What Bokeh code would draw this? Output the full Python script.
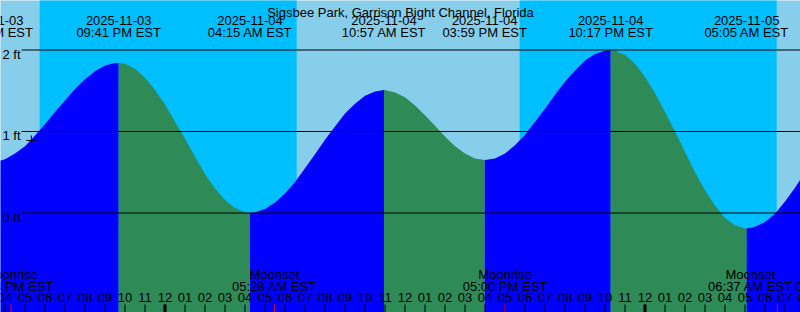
from datetime import datetime
from bokeh.plotting import figure
from bokeh.models import Range1d, ColumnDataSource, LabelSet, Label
from bokeh.core.properties import value
from bokeh.embed import file_html
from bokeh.resources import INLINE

TITLE = "Sigsbee Park, Garrison Bight Channel, Florida"

# Tide extremes labelled along the top (low / high)
EXT_DATE = ["2025-11-03", "2025-11-03", "2025-11-04", "2025-11-04",
            "2025-11-04", "2025-11-04", "2025-11-05"]
EXT_CLOCK = ["03:17 PM EST", "09:41 PM EST", "04:15 AM EST", "10:57 AM EST",
             "03:59 PM EST", "10:17 PM EST", "05:05 AM EST"]
EXT_FT = [0.62, 1.84, 0.00, 1.51, 0.65, 2.00, -0.19]

# Half-hourly tide heights (hours after 2025-11-04 00:00 EST)
TIDE_HOURS = [h / 2 for h in range(-18, 65)]
TIDE_FT = [0.63, 0.62, 0.66, 0.73, 0.82, 0.95, 1.09, 1.24, 1.38, 1.52,
           1.64, 1.74, 1.81, 1.84, 1.83, 1.77, 1.66, 1.51, 1.33, 1.12,
           0.91, 0.69, 0.48, 0.30, 0.16, 0.06, 0.01, 0.01, 0.05, 0.13,
           0.24, 0.38, 0.55, 0.72, 0.90, 1.06, 1.22, 1.34, 1.44, 1.49,
           1.51, 1.48, 1.42, 1.32, 1.20, 1.07, 0.94, 0.82, 0.73, 0.67,
           0.65, 0.67, 0.73, 0.83, 0.96, 1.12, 1.28, 1.45, 1.61, 1.75,
           1.87, 1.95, 1.99, 1.99, 1.94, 1.83, 1.67, 1.47, 1.24, 1.00,
           0.75, 0.50, 0.28, 0.09, -0.06, -0.15, -0.19, -0.17, -0.11, -0.01,
           0.14, 0.31, 0.50]

# Night (sunset -> sunrise)
NIGHT_START = ["2025-11-03 05:44 PM", "2025-11-04 05:44 PM"]
NIGHT_END = ["2025-11-04 06:35 AM", "2025-11-05 06:35 AM"]

# Moon events along the bottom
MOON_EVENT = ["Moonrise", "Moonset", "Moonrise", "Moonset", "Full Moon"]
MOON_CLOCK = ["2025-11-03 04:18 PM", "2025-11-04 05:28 AM",
              "2025-11-04 05:00 PM", "2025-11-05 06:37 AM", "2025-11-05 08:19 AM"]
MOON_TICK = [True, True, True, True, False]

# Current-time marker
NOW_CLOCK = "2025-11-03 05:19 PM"
NOW_FT = 0.89

# Hour ticks
HOUR_TICKS = list(range(-9, 33))
HOUR_LABELS = ["03", "04", "05", "06", "07", "08", "09", "10", "11", "12",
               "01", "02", "03", "04", "05", "06", "07", "08", "09", "10", "11", "12",
               "01", "02", "03", "04", "05", "06", "07", "08", "09", "10", "11", "12",
               "01", "02", "03", "04", "05", "06", "07", "08"]

DATUM_FT = [0, 1, 2]
DATUM_LABELS = ["0 ft", "1 ft", "2 ft"]

# ---------------------------------------------------------------- layout
W, H = 800, 312
PX_PER_HOUR = 20.0
PX_PER_FT = 81.5
MIDNIGHT_COL = 164.5
ZERO_ROW = 212.5
X0 = -MIDNIGHT_COL / PX_PER_HOUR
X1 = X0 + W / PX_PER_HOUR
Y1 = ZERO_ROW / PX_PER_FT
Y0 = Y1 - H / PX_PER_FT
# bottom labels nudged sideways (px) so that neighbouring labels do not collide
MOON_NUDGE = [0, 0, 0, -27, 26]

DAY = "#87CEEB"
NIGHT = "#00BFFF"
RISE = "#0000FF"
FALL = "#2E8B57"
FONT = "Liberation Sans"
FS = "13px"

REF = datetime(2025, 11, 4, 0, 0)


def hours(s):
    dt = datetime.strptime(s, "%Y-%m-%d %I:%M %p")
    return (dt - REF).total_seconds() / 3600.0


ext_t = [hours(d + " " + c.replace(" EST", "")) for d, c in zip(EXT_DATE, EXT_CLOCK)]

p = figure(width=W, height=H, x_range=Range1d(X0, X1), y_range=Range1d(Y0, Y1),
           x_axis_type=None, y_axis_type=None, output_backend="svg",
           toolbar_location=None, min_border=0)
p.grid.visible = False
p.outline_line_color = None
p.background_fill_color = DAY
p.border_fill_color = DAY

# night bands
p.quad(left=[hours(s) for s in NIGHT_START], right=[hours(s) for s in NIGHT_END],
       bottom=Y0 - 1, top=Y1 + 1, fill_color=NIGHT, line_color=None)

# tide fill, split into rising / falling runs
curve = dict(zip(TIDE_HOURS, TIDE_FT))
curve.update(zip(ext_t, EXT_FT))
ts = sorted(curve)
bounds = [ts[0]] + ext_t + [ts[-1]]
for a, b in zip(bounds[:-1], bounds[1:]):
    seg = [t for t in ts if a <= t <= b]
    color = RISE if curve[b] > curve[a] else FALL
    p.varea(x=seg, y1=Y0 - 1, y2=[curve[t] for t in seg], fill_color=color)

# datum lines
line_x0 = X0 + 21 / PX_PER_HOUR
p.segment(x0=[line_x0] * len(DATUM_FT), x1=[X1] * len(DATUM_FT),
          y0=DATUM_FT, y1=DATUM_FT, line_color="black", line_width=1)
for v, lab in zip(DATUM_FT, DATUM_LABELS):
    p.add_layout(Label(x=2, x_units="screen", y=v - 4 / PX_PER_FT, text=lab,
                       text_font=FONT, text_font_size=FS, text_color="black",
                       text_align="left", text_baseline="alphabetic"))

# now marker
p.scatter(x=[hours(NOW_CLOCK)], y=[NOW_FT], marker="cross", size=10,
          line_color="black", line_width=1)

# hour ticks
tick_top = Y0 + 8 / PX_PER_FT
p.segment(x0=HOUR_TICKS, x1=HOUR_TICKS, y0=[Y0] * len(HOUR_TICKS),
          y1=[tick_top] * len(HOUR_TICKS), line_color="black", line_width=1)
mid = [h for h in HOUR_TICKS if h % 24 == 0]
p.segment(x0=mid, x1=mid, y0=[Y0] * len(mid), y1=[tick_top] * len(mid),
          line_color="black", line_width=3)
moon_t = [hours(s) for s in MOON_CLOCK]
rt = [t for t, k in zip(moon_t, MOON_TICK) if k]
p.segment(x0=rt, x1=rt, y0=[Y0] * len(rt), y1=[tick_top] * len(rt),
          line_color="red", line_width=1)

common = dict(text_font=value(FONT), text_font_size=value(FS), text_color="black",
              text_align="center", text_baseline="alphabetic", y_units="screen")

hsrc = ColumnDataSource(dict(t=HOUR_TICKS, lab=HOUR_LABELS))
p.add_layout(LabelSet(x="t", y=10.3, text="lab", source=hsrc, **common))

moon_time_txt = [datetime.strptime(s, "%Y-%m-%d %I:%M %p").strftime("%I:%M %p") + " EST"
                 for s in MOON_CLOCK]
msrc = ColumnDataSource(dict(t=moon_t, ev=MOON_EVENT, tm=moon_time_txt, dx=MOON_NUDGE))
p.add_layout(LabelSet(x="t", y=33.7, text="ev", x_offset="dx", source=msrc, **common))
p.add_layout(LabelSet(x="t", y=21.5, text="tm", x_offset="dx", source=msrc, **common))

esrc = ColumnDataSource(dict(t=ext_t, d=EXT_DATE, c=EXT_CLOCK))
p.add_layout(LabelSet(x="t", y=288, text="d", source=esrc, **common))
p.add_layout(LabelSet(x="t", y=276, text="c", source=esrc, **common))

p.add_layout(Label(x=W / 2, y=300, x_units="screen", y_units="screen", text=TITLE,
                   text_font=FONT, text_font_size=FS, text_color="black",
                   text_align="center", text_baseline="alphabetic"))

open("out.html", "w").write(file_html(p, INLINE))
